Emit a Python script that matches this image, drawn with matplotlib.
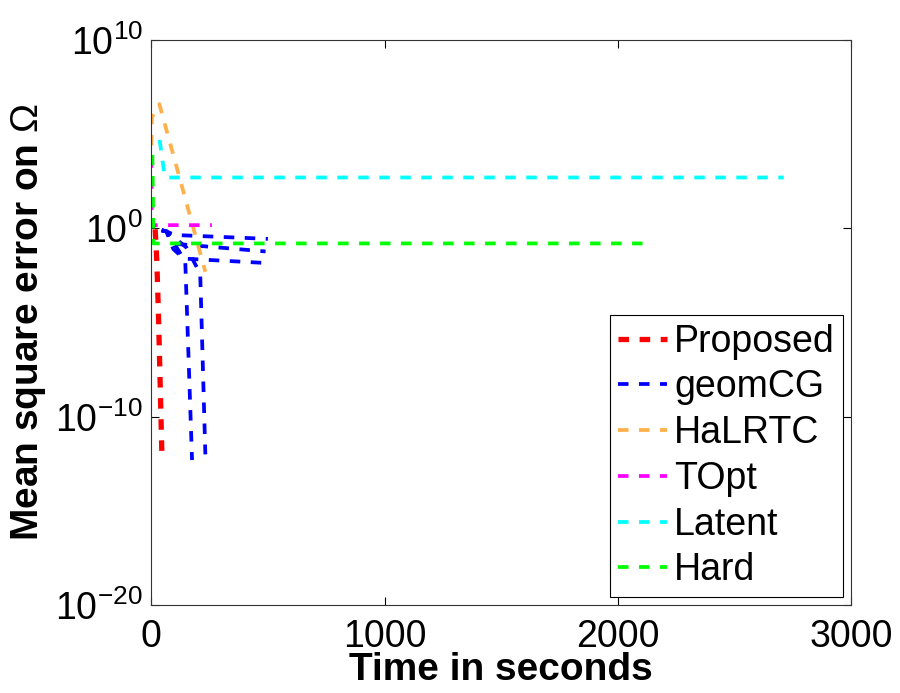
import numpy as np
import matplotlib
matplotlib.use('Agg')
from matplotlib import pyplot as plt

plt.rcParams['font.family'] = ['Liberation Sans', 'DejaVu Sans']
plt.rcParams['mathtext.fontset'] = 'custom'
plt.rcParams['mathtext.rm'] = 'Liberation Sans'
plt.rcParams['mathtext.it'] = 'Liberation Sans:italic'

# Proposed
prop_t = [17, 24, 31, 38, 46]
prop_err = [0.9, 2e-2, 3e-5, 9e-9, 8e-13]

# geomCG (several runs, one legend entry)
geom_t = [
    [45, 65, 100, 500],
    [45, 65, 110, 490],
    [45, 65, 95, 140, 475],
    [45, 65, 120, 146, 175],
    [45, 65, 150, 210, 232],
]
geom_err = [
    [0.8, 0.7, 0.45, 0.28],
    [0.8, 0.7, 0.15, 0.06],
    [0.8, 0.7, 0.08, 0.025, 0.015],
    [0.8, 0.7, 0.06, 0.017, 5e-13],
    [0.8, 0.7, 0.1, 4e-3, 1e-12],
]

# HaLRTC
hal_t = [0, 3, 35, 232]
hal_err = [2e3, 8e5, 4e6, 5e-3]

# TOpt
topt_t = [0, 3, 260]
topt_err = [6e3, 1.5, 1.5]

# Latent
lat_t = [36, 53, 60, 2710]
lat_err = [5e4, 1.6e3, 5.1e2, 5.1e2]

# Hard
hard_t = [5, 10, 2120]
hard_err = [8e3, 0.16, 0.16]

fig = plt.figure(figsize=(9, 6.93), dpi=100)
ax = fig.add_axes([0.168, 0.127, 0.778, 0.815])

lw = 2.7
dash = (2.8, 2.8)
ax.plot(prop_t, prop_err, color='red', lw=3.8, dashes=(2.0, 2.0), label='Proposed')
for k in range(len(geom_t)):
    ax.plot(geom_t[k], geom_err[k], color='blue', lw=lw, dashes=dash,
            label='geomCG' if k == 0 else None)
ax.plot(hal_t, hal_err, color='#ffb04a', lw=lw, dashes=dash, label='HaLRTC')
ax.plot(topt_t, topt_err, color='magenta', lw=lw, dashes=dash, label='TOpt')
ax.plot(lat_t, lat_err, color='cyan', lw=lw, dashes=dash, label='Latent')
ax.plot(hard_t, hard_err, color='#00ff00', lw=lw, dashes=dash, label='Hard')

ax.set_yscale('log')
ax.set_xlim(0, 3000)
ax.set_ylim(1e-20, 1e10)
ax.set_xticks([0, 1000, 2000, 3000])
ax.set_yticks([1e-20, 1e-10, 1e0, 1e10])
ax.yaxis.set_minor_locator(matplotlib.ticker.NullLocator())
ax.tick_params(direction='in', top=True, right=True, labelsize=27,
               length=6, width=0.8)
ax.tick_params(axis='x', pad=10)
ax.tick_params(axis='y', pad=6)
for s in ax.spines.values():
    s.set_linewidth(0.8)
    s.set_color('#333333')

ax.set_xlabel('Time in seconds', fontsize=28, fontweight='bold', labelpad=-2)
ax.set_ylabel(r'Mean square error on $\Omega$', fontsize=28, fontweight='bold',
              labelpad=5)

leg = ax.legend(loc='lower right', fontsize=27, handlelength=1.3,
                handletextpad=0.2, labelspacing=0.26, borderpad=0.22,
                borderaxespad=0.22, fancybox=False, framealpha=1)
leg.get_frame().set_edgecolor('black')
leg.get_frame().set_linewidth(0.8)

fig.savefig('out.png', dpi=100)
